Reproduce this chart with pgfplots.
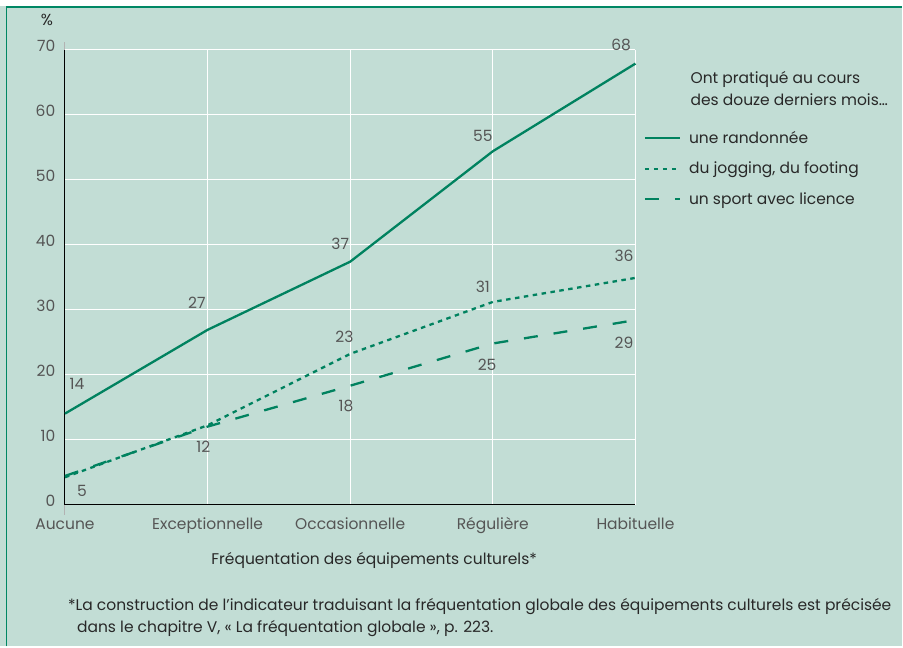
\documentclass[border=0pt]{standalone}
\usepackage{pgfplots}
\pgfplotsset{compat=1.18}
\usepackage{fontspec}
\setmainfont{Poppins}
\definecolor{bg}{RGB}{194,221,213}
\definecolor{gr}{RGB}{0,130,95}
\definecolor{frame}{RGB}{0,135,100}
\definecolor{txt}{RGB}{85,85,85}
\definecolor{dark}{RGB}{40,40,40}
\begin{document}
\begin{tikzpicture}[x=1pt,y=1pt]
\fill[bg] (0pt,0pt) rectangle (903pt,647pt);
\fill[white] (0pt,641pt) rectangle (903pt,647pt);
\draw[frame, line width=1.6pt] (6.5pt,0pt) -- (6.5pt,640.2pt) -- (903pt,640.2pt);
\node[font=\fontsize{16}{18}\selectfont, text=dark] at (47pt,627pt) {\%};
\begin{axis}[at={(65pt,142pt)}, anchor=south west, scale only axis,
  width=571pt, height=455pt,
  xmin=0, xmax=4, ymin=0, ymax=70, clip=false,
  xtick={0,1,2,3,4},
  xticklabels={Aucune,Exceptionnelle,Occasionnelle,Régulière,Habituelle},
  ytick={0,10,20,30,40,50,60,70},
  /pgf/number format/assume math mode=true,
  grid=major, major grid style={white, line width=1pt},
  axis x line=bottom, axis y line=left, axis line style={-, black, line width=1pt},
  tick style={draw=none},
  every tick label/.append style={font=\fontsize{15.5}{18}\selectfont, text=txt},
  yticklabel style={yshift=4pt, xshift=-4pt},
  xticklabel style={text height=11pt, text depth=3.5pt, yshift=-8pt},
  xlabel={Fréquentation des équipements culturels*},
  xlabel style={font=\fontsize{15.5}{18}\selectfont, text=dark, yshift=-13pt, xshift=24pt},
  legend style={at={(rel axis cs:1.009,0.83)}, anchor=north west, draw=none, fill=none,
     font=\fontsize{15.5}{18}\selectfont, text=dark, row sep=13pt},
  legend cell align=left,
  legend image code/.code={\draw[#1] (0pt,0pt) -- (35pt,0pt); \path (41pt,0pt);},
]
\addplot[gr, line width=2.3pt] coordinates {(0,14) (1,26.9) (2,37.4) (3,54.4) (4,67.9)};
\addlegendentry{une randonnée}
\addplot[gr, line width=2.3pt, dash pattern=on 4.5pt off 4.5pt] coordinates {(0,4.2) (1,12.2) (2,23.2) (3,31.2) (4,34.9)};
\addlegendentry{du jogging, du footing}
\addplot[gr, line width=2.3pt, dash pattern=on 14pt off 16pt] coordinates {(0,4.4) (1,12.0) (2,18.3) (3,24.8) (4,28.4)};
\addlegendentry{un sport avec licence}
\draw[gray!60, line width=1pt] (axis cs:0,70) -- ++(0,8pt);
\draw[gray!60, line width=1pt] (axis cs:0,0) -- ++(0,-10pt);
\begin{scope}[every node/.style={font=\fontsize{15.5}{18}\selectfont, text=txt}]
\node at (axis cs:0.084,18.6) {14};
\node at (axis cs:0.925,31.1) {27};
\node at (axis cs:1.93,40.2) {37};
\node at (axis cs:2.93,56.8) {55};
\node at (axis cs:3.90,70.8) {68};
\node at (axis cs:0.97,8.9) {12};
\node at (axis cs:1.96,25.8) {23};
\node at (axis cs:2.93,33.5) {31};
\node at (axis cs:3.92,38.3) {36};
\node at (axis cs:0.12,2.15) {5};
\node at (axis cs:1.97,15.2) {18};
\node at (axis cs:2.96,21.5) {25};
\node at (axis cs:3.92,24.9) {29};
\end{scope}
\end{axis}
\node[anchor=base west, inner sep=0pt, font=\fontsize{15.5}{18}\selectfont, text=dark] at (691pt,563pt) {Ont pratiqué au cours};
\node[anchor=base west, inner sep=0pt, font=\fontsize{15.5}{18}\selectfont, text=dark] at (691pt,541pt) {des douze derniers mois…};
\node[anchor=base west, font=\fontsize{15.5}{18}\selectfont, text=dark, inner sep=0pt] at (68pt,36pt) {*La construction de l'indicateur traduisant la fréquentation globale des équipements culturels est précisée};
\node[anchor=base west, font=\fontsize{15.5}{18}\selectfont, text=dark, inner sep=0pt] at (77pt,14pt) {dans le chapitre V, « La fréquentation globale », p. 223.};
\end{tikzpicture}
\end{document}
